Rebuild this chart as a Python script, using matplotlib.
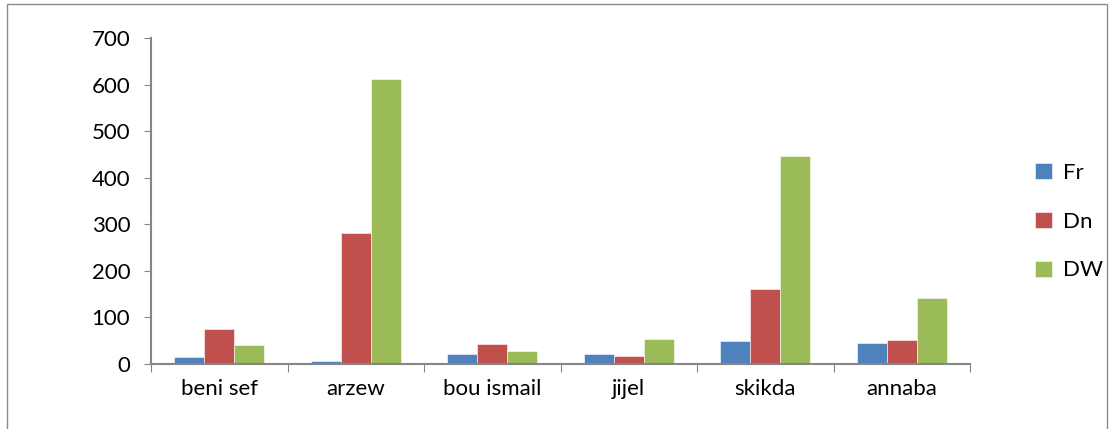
import matplotlib.pyplot as plt
import numpy as np
from matplotlib.patches import Rectangle

sites = ["beni sef", "arzew", "bou ismail", "jijel", "skikda", "annaba"]
fr = [15, 6, 22, 22, 50, 46]
dn = [75, 282, 43, 17, 160, 52]
dw = [40, 612, 28, 54, 447, 142]
series = ["Fr", "Dn", "DW"]
colors = ["#4F81BD", "#C0504D", "#9BBB59"]

plt.rcParams["font.family"] = ["Lato", "DejaVu Sans"]

W, H = 1114, 429
fig = plt.figure(figsize=(W / 100, H / 100), dpi=100)
ax = fig.add_axes([151 / W, 1 - 364 / H, (970 - 151) / W, (364 - 38) / H])

# chart border
fig.patches.append(Rectangle((7 / W, -0.05), 1100 / W, 1.05 - 4 / H,
                             transform=fig.transFigure, fill=False,
                             edgecolor="#8c8c8c", linewidth=1.0))

x = np.arange(len(sites))
bw = 0.22
for i, (vals, name, c) in enumerate(zip([fr, dn, dw], series, colors)):
    ax.bar(x + (i - 1) * bw, vals, bw, color=c, label=name,
           edgecolor="white", linewidth=0.4)

ax.set_xlim(-0.5, len(sites) - 0.5)
ax.set_ylim(0, 700)
ax.set_yticks(range(0, 701, 100))
ax.tick_params(axis="y", labelsize=16, length=5, color="#868686", pad=10)

# category ticks between groups, labels centred under groups
ax.set_xticks(np.arange(-0.5, len(sites)), minor=False)
ax.set_xticklabels([])
ax.set_xticks(x, minor=True)
ax.set_xticklabels(sites, minor=True)
ax.tick_params(axis="x", which="major", length=6, color="#868686")
ax.tick_params(axis="x", which="minor", length=0, labelsize=16, pad=11)

for s in ["top", "right"]:
    ax.spines[s].set_visible(False)
for s in ["left", "bottom"]:
    ax.spines[s].set_color("#868686")
    ax.spines[s].set_linewidth(1.5)

leg = ax.legend(loc="center left", bbox_to_anchor=(1.055, 0.437), frameon=False,
                fontsize=16, handlelength=0.75, handleheight=0.75,
                labelspacing=1.3, handletextpad=0.5)

fig.savefig("out.png", dpi=100)
